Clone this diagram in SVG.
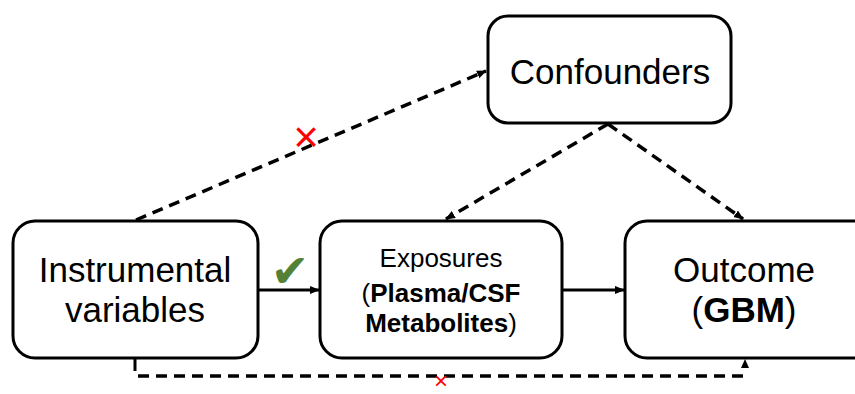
<svg xmlns="http://www.w3.org/2000/svg" width="855" height="394" viewBox="0 0 855 394">
<style>
.box{fill:#fff;stroke:#000;stroke-width:3}
.t{font-family:"Liberation Sans",Arial,sans-serif;fill:#000;text-anchor:middle}
.big{font-size:35px}
.mid{font-size:26px}
.b{font-weight:bold}
.solid{fill:none;stroke:#000;stroke-width:3}
.dash{fill:none;stroke:#000;stroke-width:3.5;stroke-dasharray:11 7}
.x{font-family:"Liberation Sans",Arial,sans-serif;fill:#ff0000;text-anchor:middle}
</style>
<defs>
<marker id="ah" markerWidth="10" markerHeight="10" refX="9" refY="5" orient="auto" markerUnits="userSpaceOnUse">
<path d="M0,1 L10,5 L0,9 Z" fill="#000"/>
</marker>
</defs>
<rect width="855" height="394" fill="#fff"/>
<g id="connectors">
<path class="solid" d="M258,290 H319" marker-end="url(#ah)"/>
<path class="solid" d="M562,290 H624" marker-end="url(#ah)"/>
<path class="dash" d="M136,220 L486,71" marker-end="url(#ah)"/>
<path class="dash" d="M608,124 L446,219" marker-end="url(#ah)"/>
<path class="dash" d="M608,124 L743,219" marker-end="url(#ah)"/>
<path class="solid" d="M135,358 V371"/>
<path class="dash" d="M138,376 H747"/>
<path d="M745,359 L741,368 L749,368 Z" fill="#000"/>
<text class="x" x="306" y="152" font-size="44">×</text>
<text class="x" x="441" y="389" font-size="24">×</text>
<text x="290" y="287" font-family="DejaVu Sans,sans-serif" font-size="46" fill="#538135" text-anchor="middle">✔</text>
</g>
<g id="confounders">
<rect class="box" x="488" y="16" width="243" height="107" rx="20"/>
<text class="t big" x="610" y="84">Confounders</text>
</g>
<g id="instrumental">
<rect class="box" x="13" y="221" width="245" height="137" rx="22"/>
<text class="t big" x="135" y="282">Instrumental</text>
<text class="t big" x="135" y="322">variables</text>
</g>
<g id="exposures">
<rect class="box" x="320" y="221" width="242" height="137" rx="22"/>
<text class="t mid" x="441" y="267">Exposures</text>
<text class="t mid" x="441" y="302">(<tspan class="b">Plasma/CSF</tspan></text>
<text class="t mid" x="441" y="332"><tspan class="b">Metabolites</tspan>)</text>
</g>
<g id="outcome">
<rect class="box" x="625" y="221" width="250" height="137" rx="22"/>
<text class="t big" x="744" y="282">Outcome</text>
<text class="t big" x="744" y="322">(<tspan class="b">GBM</tspan>)</text>
</g>
</svg>
